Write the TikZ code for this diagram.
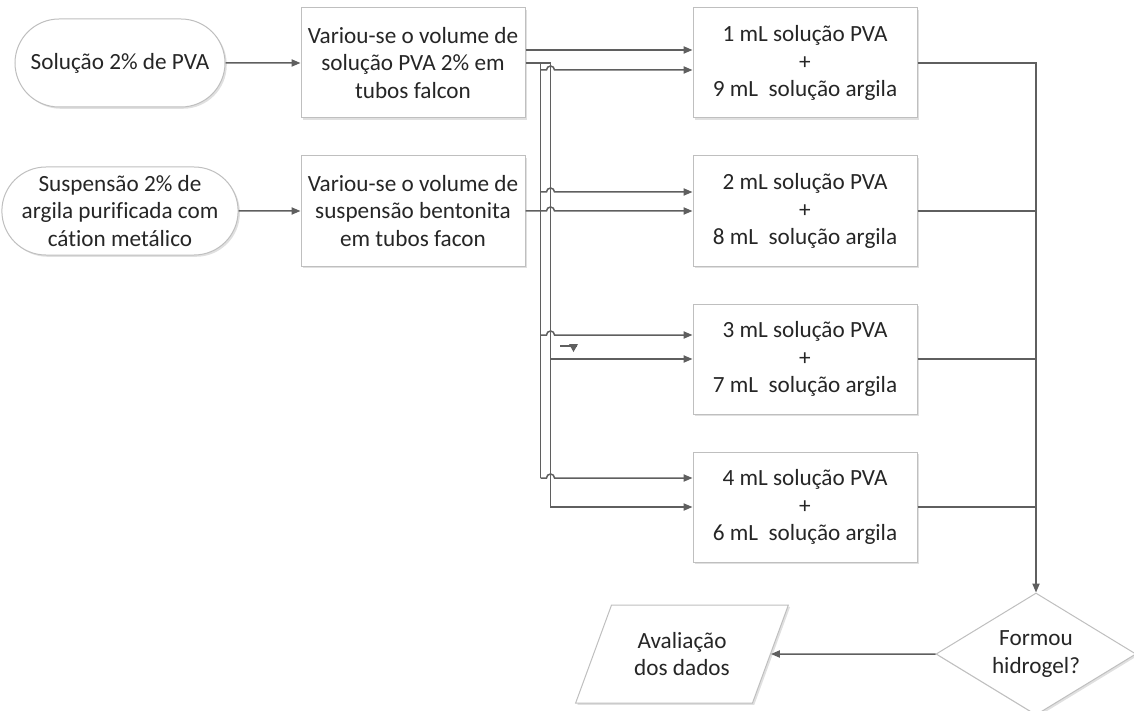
\documentclass[tikz,border=0pt]{standalone}
\usepackage{fontspec}
\setmainfont{Carlito}[Ligatures=NoCommon]
\usetikzlibrary{shapes.geometric,shapes.misc,arrows.meta,shadows,positioning}
\definecolor{linegray}{HTML}{5F5F5F}
\definecolor{boxgray}{HTML}{BFBFBF}

\begin{document}
\begin{tikzpicture}[x=0.5pt,y=0.5pt]
        \tikzset{every node/.style={font=\fontsize{11.6pt}{13.6pt}\selectfont, text=black!85, align=center},
        Shadowed/.style={draw=boxgray, line width=0.5pt, fill=white,
          drop shadow={shadow xshift=0.9pt, shadow yshift=-0.9pt, fill=black!12, opacity=1}},
        Terminal/.style={Shadowed, rounded rectangle, minimum width=107pt, minimum height=44pt, inner sep=1pt},
        Process/.style={Shadowed, rectangle, minimum width=112pt, minimum height=55pt},
        Decision/.style={Shadowed, diamond, aspect=1.64, minimum width=100pt, minimum height=61pt, inner sep=0pt},
        Data/.style={Shadowed, trapezium, trapezium left angle=64, trapezium right angle=116,
          trapezium stretches=true, minimum width=107pt, minimum height=49pt},
        Line/.style={draw=linegray, line width=0.75pt},
        Flow/.style={Line, -{Triangle[length=4.5pt, width=3.6pt]}}}
        \useasboundingbox (0,0) rectangle (1134,-711);
        \node[Terminal] (pva) at (120,-63) {Solução 2\% de PVA};
        \node[Process, right=37.5pt of pva] (volpva) {Variou-se o volume de\\solução PVA 2\% em\\tubos falcon};
        \node[Process, below=18.5pt of volpva] (volsusp) {Variou-se o volume de\\suspensão bentonita\\em tubos facon};
        \node[Terminal] (susp) at (pva |- volsusp) {Suspensão 2\% de\\argila purificada com\\cátion metálico};
        \node[Process, right=83.5pt of volpva] (mix1) {1 mL solução PVA\\+\\9 mL\ \ solução argila};
        \node[Process, below=18.5pt of mix1] (mix2) {2 mL solução PVA\\+\\8 mL\ \ solução argila};
        \node[Process, below=18.5pt of mix2] (mix3) {3 mL solução PVA\\+\\7 mL\ \ solução argila};
        \node[Process, below=18.5pt of mix3] (mix4) {4 mL solução PVA\\+\\6 mL\ \ solução argila};
        \node[Decision] (gel) at (1036,-654) {Formou\\hidrogel?};
        \node[Data] (eval) at (682,-654) {Avaliação\\dos dados};
        \coordinate (bus1) at ([xshift=7.5pt]volpva.east);
        \coordinate (bus2) at ([xshift=12.5pt]volpva.east);
        \draw[Flow] (pva) -- (volpva);
        \draw[Flow] (susp) -- (volsusp);
        \draw[Flow] ([yshift=6.5pt]volpva.east) -- ([yshift=6.5pt]volpva.east -| mix1.west);
        \draw[Line] (volpva.east) -- (bus2);
        \draw[Line] (bus1) -- ([yshift=14.5pt]mix4.west -| bus1);
        \draw[Flow] (bus2) |- (mix4.west);
        \draw[Flow] ([yshift=-3.5pt]mix1.west -| bus1) -- ++(6,0) arc[start angle=180, end angle=0, radius=4] -- ([yshift=-3.5pt]mix1.west);
        \draw[Flow] ([yshift=9.5pt]mix2.west -| bus1) -- ++(6,0) arc[start angle=180, end angle=0, radius=4] -- ([yshift=9.5pt]mix2.west);
        \draw[Flow] ([yshift=12pt]mix3.west -| bus1) -- ++(6,0) arc[start angle=180, end angle=0, radius=4] -- ([yshift=12pt]mix3.west);
        \draw[Flow] ([yshift=14.5pt]mix4.west -| bus1) -- ++(6,0) arc[start angle=180, end angle=0, radius=4] -- ([yshift=14.5pt]mix4.west);
        \draw[Flow] (volsusp.east) -- ++(21,0) arc[start angle=180, end angle=0, radius=4] -- (mix2.west);
        \draw[Flow] (mix3.west -| bus2) -- (mix3.west);
        \draw[Line] (560,-346) -- ++(17,0);
        \fill[linegray] (569,-344) -- (578,-344) -- (573.5,-352) -- cycle;
        \draw[Flow] (mix1.east) -| (gel.north);
        \draw[Line] (mix2.east) -- (mix2.east -| gel.north);
        \draw[Line] (mix3.east) -- (mix3.east -| gel.north);
        \draw[Line] (mix4.east) -- (mix4.east -| gel.north);
        \draw[Flow] (gel.west) -- (eval.east);
\end{tikzpicture}
\end{document}
